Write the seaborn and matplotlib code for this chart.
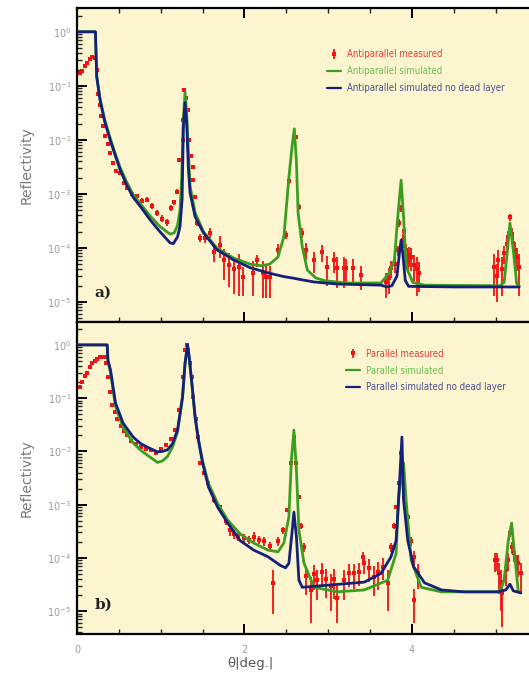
import numpy as np
import matplotlib
matplotlib.use("Agg")
import matplotlib.pyplot as plt
import seaborn as sns
from matplotlib import font_manager
from matplotlib.ticker import FixedLocator, LogLocator, NullFormatter, MultipleLocator
from matplotlib.lines import Line2D

# ---------------- Panel a: antiparallel ----------------
a_meas_theta = [0.03, 0.06, 0.09, 0.12, 0.15, 0.18, 0.21, 0.235, 0.25, 0.27, 0.29, 0.31, 0.34, 0.37,
                0.40, 0.43, 0.47, 0.51, 0.56, 0.60, 0.66, 0.72, 0.78, 0.84, 0.90, 0.96, 1.02, 1.07,
                1.12, 1.16, 1.20, 1.22, 1.26, 1.27, 1.28, 1.30, 1.32, 1.34, 1.36, 1.38, 1.39, 1.41,
                1.43, 1.47, 1.53, 1.59, 1.63, 1.71, 1.75, 1.81, 1.87, 1.93, 1.98, 2.10, 2.15, 2.22,
                2.26, 2.30, 2.40, 2.49, 2.53, 2.61, 2.65, 2.69, 2.73, 2.83, 2.93, 2.99, 3.07, 3.11,
                3.19, 3.21, 3.29, 3.39, 3.69, 3.72, 3.75, 3.80, 3.83, 3.84, 3.87, 3.89, 3.90, 3.93,
                3.95, 3.97, 3.99, 4.02, 4.06, 4.08, 4.98, 5.01, 5.03, 5.07, 5.10, 5.13, 5.15, 5.17,
                5.19, 5.21, 5.23, 5.25, 5.28]
a_meas_R = [0.17, 0.19, 0.23, 0.27, 0.31, 0.34, 0.33, 0.2, 0.07, 0.045, 0.028, 0.018, 0.012, 0.0085,
            0.0058, 0.0038, 0.0027, 0.0024, 0.0016, 0.0013, 1.0e-3, 9.0e-4, 7.5e-4, 7.8e-4, 6.0e-4,
            4.5e-4, 3.5e-4, 3.0e-4, 5.5e-4, 7.0e-4, 1.1e-3, 4.3e-3, 1.0e-2, 2.3e-2, 8.5e-2, 6.0e-2,
            3.6e-2, 1.0e-2, 5.0e-3, 3.2e-3, 1.8e-3, 8.7e-4, 2.9e-4, 1.55e-4, 1.5e-4, 1.9e-4, 8.5e-5,
            1.15e-4, 6.0e-5, 4.9e-5, 4.0e-5, 4.5e-5, 2.9e-5, 3.5e-5, 6.0e-5, 3.5e-5, 2.9e-5, 2.9e-5,
            9.1e-5, 1.75e-4, 1.7e-3, 1.15e-2, 5.8e-4, 1.9e-4, 9.1e-5, 6.0e-5, 8.5e-5, 4.5e-5, 6.0e-5,
            4.3e-5, 4.3e-5, 4.3e-5, 4.3e-5, 3.2e-5, 2.3e-5, 2.8e-5, 4.3e-5, 5.0e-5, 9.0e-5, 2.9e-4,
            5.5e-4, 1.4e-4, 2.1e-4, 9.0e-5, 6.0e-5, 7.5e-5, 6.8e-5, 4.9e-5, 4.0e-5, 3.5e-5, 4.5e-5,
            3.0e-5, 6.0e-5, 4.0e-5, 8.0e-5, 1.2e-4, 1.6e-4, 3.7e-4, 1.8e-4, 1.25e-4, 9.0e-5, 6.8e-5,
            4.5e-5]
a_meas_err = [0.012, 0.013, 0.015, 0.018, 0.02, 0.022, 0.022, 0.014, 0.005, 0.003, 0.002, 0.0013,
              9e-4, 6e-4, 4e-4, 3e-4, 2.2e-4, 2e-4, 1.4e-4, 1.2e-4, 1e-4, 9e-5, 8e-5, 8e-5, 7e-5,
              6e-5, 5e-5, 5e-5, 7e-5, 8e-5, 1.2e-4, 4e-4, 9e-4, 2e-3, 7e-3, 5e-3, 3e-3, 9e-4, 4e-4,
              3e-4, 1.6e-4, 8e-5, 4e-5, 2.5e-5, 2.5e-5, 4e-5, 3e-5, 5e-5, 3.5e-5, 3e-5, 2.6e-5,
              3.2e-5, 1.6e-5, 2.2e-5, 1.5e-5, 2.3e-5, 1.7e-5, 1.7e-5, 2.5e-5, 3e-5, 2e-4, 1e-3,
              8e-5, 4e-5, 3e-5, 2.5e-5, 3e-5, 2.5e-5, 2.5e-5, 2.5e-5, 2.5e-5, 2e-5, 2e-5, 1.5e-5,
              1.1e-5, 1.4e-5, 1.5e-5, 1.5e-5, 2e-5, 5e-5, 8e-5, 4e-5, 5e-5, 3e-5, 2.5e-5, 3e-5,
              3e-5, 2.5e-5, 2.7e-5, 2e-5, 3.2e-5, 2e-5, 3e-5, 2.7e-5, 3e-5, 4e-5, 5e-5, 6e-5, 5e-5,
              4e-5, 4e-5, 3e-5, 3.2e-5]

a_sim_theta = [0.0, 0.22, 0.235, 0.275, 0.33, 0.395, 0.45, 0.515, 0.59, 0.67, 0.77, 0.874, 0.99,
               1.11, 1.16, 1.20, 1.23, 1.25, 1.27, 1.29, 1.31, 1.33, 1.35, 1.41, 1.51, 1.67, 1.87,
               2.07, 2.20, 2.30, 2.40, 2.47, 2.53, 2.57, 2.595, 2.62, 2.64, 2.69, 2.75, 2.85, 2.95,
               3.20, 3.63, 3.73, 3.79, 3.83, 3.87, 3.90, 3.93, 4.01, 4.15, 5.05, 5.10, 5.14, 5.17,
               5.21, 5.25, 5.28]
a_sim_R = [1.0, 1.0, 0.15, 0.058, 0.024, 0.011, 0.006, 0.0031, 0.0017, 9.8e-4, 6.2e-4, 3.9e-4,
           2.5e-4, 1.8e-4, 1.9e-4, 2.6e-4, 5.0e-4, 2.0e-3, 2.5e-2, 7.5e-2, 3.0e-2, 6.0e-3, 1.4e-3,
           4.5e-4, 2.0e-4, 1.0e-4, 6.5e-5, 5.0e-5, 4.7e-5, 5.0e-5, 6.8e-5, 1.6e-4, 2.0e-3, 8.0e-3,
           1.6e-2, 4.0e-3, 4.5e-4, 1.05e-4, 3.9e-5, 2.8e-5, 2.5e-5, 2.25e-5, 2.25e-5, 3.5e-5, 6.0e-5,
           3.7e-4, 1.8e-3, 3.7e-4, 4.5e-5, 2.3e-5, 2.05e-5, 2.0e-5, 2.3e-5, 9.0e-5, 2.9e-4, 9.0e-5,
           2.2e-5, 2.0e-5]

a_nodl_theta = [0.0, 0.22, 0.235, 0.275, 0.33, 0.395, 0.45, 0.515, 0.59, 0.67, 0.77, 0.874, 0.99,
                1.11, 1.15, 1.20, 1.23, 1.255, 1.27, 1.29, 1.31, 1.33, 1.35, 1.41, 1.51, 1.67, 1.87,
                2.07, 2.27, 2.47, 2.59, 2.67, 2.83, 3.11, 3.63, 3.70, 3.76, 3.82, 3.85, 3.87, 3.89,
                3.92, 3.96, 4.50, 5.28]
a_nodl_R = [1.0, 1.0, 0.15, 0.055, 0.022, 0.010, 0.0055, 0.0028, 0.0015, 8.7e-4, 5.5e-4, 3.3e-4,
            2.0e-4, 1.25e-4, 1.2e-4, 1.6e-4, 2.5e-4, 8.0e-4, 1.7e-2, 4.9e-2, 2.0e-2, 3.0e-3, 1.05e-3,
            3.8e-4, 1.9e-4, 9.3e-5, 6.0e-5, 4.3e-5, 3.5e-5, 2.95e-5, 2.75e-5, 2.6e-5, 2.35e-5,
            2.15e-5, 2.05e-5, 1.9e-5, 2.0e-5, 3.0e-5, 8.0e-5, 1.4e-4, 8.0e-5, 2.5e-5, 1.95e-5,
            1.9e-5, 1.9e-5]

# ---------------- Panel b: parallel ----------------
b_meas_theta = [0.03, 0.06, 0.09, 0.12, 0.15, 0.18, 0.21, 0.24, 0.27, 0.30, 0.33, 0.35, 0.37, 0.39,
                0.42, 0.45, 0.48, 0.52, 0.56, 0.60, 0.65, 0.70, 0.76, 0.82, 0.88, 0.94, 1.00, 1.06,
                1.12, 1.17, 1.22, 1.26, 1.29, 1.31, 1.33, 1.35, 1.37, 1.39, 1.42, 1.44, 1.47, 1.52,
                1.57, 1.64, 1.71, 1.78, 1.83, 1.88, 1.92, 2.00, 2.05, 2.11, 2.17, 2.23, 2.30, 2.34,
                2.40, 2.46, 2.51, 2.56, 2.59, 2.62, 2.65, 2.68, 2.71, 2.74, 2.79, 2.83, 2.87, 2.92,
                2.97, 3.03, 3.07, 3.11, 3.19, 3.25, 3.31, 3.37, 3.41, 3.43, 3.49, 3.55, 3.60, 3.65,
                3.71, 3.75, 3.79, 3.81, 3.84, 3.87, 3.89, 3.90, 3.93, 3.95, 3.99, 4.02, 4.03, 4.07,
                4.99, 5.01, 5.04, 5.06, 5.08, 5.12, 5.15, 5.17, 5.19, 5.22, 5.25, 5.27, 5.30]
b_meas_R = [0.16, 0.2, 0.26, 0.3, 0.38, 0.45, 0.5, 0.55, 0.58, 0.6, 0.58, 0.45, 0.25, 0.13, 0.075,
            0.055, 0.04, 0.03, 0.024, 0.02, 0.016, 0.014, 0.012, 0.011, 0.0105, 0.0095, 0.011,
            0.013, 0.017, 0.025, 0.06, 0.25, 0.8, 1.0, 0.8, 0.46, 0.25, 0.105, 0.04, 0.019, 0.006,
            0.004, 0.0025, 0.0012, 9.0e-4, 5.0e-4, 3.3e-4, 2.8e-4, 2.5e-4, 2.4e-4, 2.2e-4, 2.5e-4,
            2.2e-4, 2.1e-4, 1.7e-4, 3.4e-5, 2.1e-4, 3.3e-4, 8.0e-4, 6.0e-3, 1.9e-2, 6.0e-3, 1.4e-3,
            4.0e-4, 1.6e-4, 4.5e-5, 2.5e-5, 5.0e-5, 3.8e-5, 5.5e-5, 4.0e-5, 3.0e-5, 4.0e-5, 1.8e-5,
            3.8e-5, 5.3e-5, 5.1e-5, 5.5e-5, 1.05e-4, 8.0e-5, 6.5e-5, 4.4e-5, 5.5e-5, 6.8e-5, 3.4e-5,
            1.6e-4, 4.0e-4, 9.0e-4, 2.5e-3, 9.3e-3, 5.1e-3, 1.4e-3, 8.0e-4, 5.9e-4, 2.1e-4, 1.05e-4,
            1.6e-5, 5.1e-5, 9.0e-5, 9.1e-5, 5.1e-5, 3.5e-5, 2.2e-5, 6.0e-5, 9.1e-5, 2.95e-4, 1.6e-4,
            1.23e-4, 8.0e-5, 7.9e-5, 5.1e-5]
b_meas_err = [0.012, 0.015, 0.02, 0.022, 0.028, 0.033, 0.037, 0.04, 0.043, 0.045, 0.043, 0.033,
              0.019, 0.01, 0.006, 0.004, 0.003, 0.0022, 0.0018, 0.0015, 0.0012, 0.001, 9e-4, 8e-4,
              8e-4, 7e-4, 8e-4, 1e-3, 1.3e-3, 1.9e-3, 4.5e-3, 0.019, 0.06, 0.075, 0.06, 0.035, 0.019,
              0.008, 0.003, 0.0015, 5e-4, 3.5e-4, 2.2e-4, 1.2e-4, 1e-4, 8e-5, 7e-5, 5e-5, 4e-5,
              4e-5, 4e-5, 5e-5, 4e-5, 4e-5, 3e-5, 2.5e-5, 4e-5, 5e-5, 7e-5, 5e-4, 1.5e-3, 5e-4,
              1.2e-4, 5e-5, 3e-5, 2.5e-5, 1.9e-5, 2.5e-5, 2.2e-5, 2.5e-5, 2.2e-5, 2e-5, 2.3e-5,
              1.2e-5, 2.2e-5, 2.5e-5, 2.5e-5, 2.5e-5, 2.5e-5, 3e-5, 3e-5, 2.5e-5, 3e-5, 3e-5, 2.4e-5,
              3e-5, 5e-5, 8e-5, 2e-4, 8e-4, 4e-4, 1.5e-4, 9e-5, 7e-5, 4e-5, 3e-5, 1e-5, 2.5e-5,
              3.5e-5, 3.5e-5, 3e-5, 2.5e-5, 1.7e-5, 3e-5, 3.5e-5, 5e-5, 4e-5, 4e-5, 3.5e-5, 3.5e-5,
              3e-5]

b_sim_theta = [0.0, 0.36, 0.37, 0.40, 0.46, 0.55, 0.67, 0.76, 0.84, 0.96, 1.02, 1.08, 1.14, 1.20,
               1.26, 1.29, 1.32, 1.34, 1.38, 1.41, 1.45, 1.50, 1.57, 1.68, 1.80, 1.95, 2.11, 2.28,
               2.40, 2.47, 2.53, 2.56, 2.59, 2.62, 2.65, 2.71, 2.83, 3.11, 3.43, 3.71, 3.81, 3.84,
               3.90, 3.93, 3.99, 4.11, 4.35, 5.05, 5.10, 5.15, 5.19, 5.22, 5.27, 5.30]
b_sim_R = [1.0, 1.0, 0.5, 0.3, 0.07, 0.028, 0.0145, 0.0105, 0.0085, 0.0062, 0.0066, 0.0080, 0.012,
           0.023, 0.10, 0.43, 0.95, 0.55, 0.135, 0.044, 0.017, 0.0066, 0.0025, 1.05e-3, 5.1e-4,
           2.8e-4, 1.9e-4, 1.4e-4, 1.3e-4, 1.9e-4, 5.9e-4, 6.9e-3, 2.5e-2, 4.5e-3, 3.3e-4, 8.0e-5,
           2.8e-5, 2.3e-5, 2.5e-5, 3.8e-5, 1.2e-4, 1.4e-3, 6.0e-3, 1.2e-3, 9.0e-5, 2.8e-5, 2.3e-5,
           2.3e-5, 3.8e-5, 2.1e-4, 4.5e-4, 1.4e-4, 2.3e-5, 2.2e-5]

b_nodl_theta = [0.0, 0.36, 0.37, 0.40, 0.46, 0.55, 0.67, 0.76, 0.84, 0.96, 1.02, 1.08, 1.14, 1.20,
                1.26, 1.29, 1.32, 1.34, 1.38, 1.41, 1.45, 1.50, 1.57, 1.68, 1.80, 1.95, 2.11, 2.28,
                2.43, 2.49, 2.53, 2.57, 2.59, 2.62, 2.65, 2.69, 3.03, 3.43, 3.63, 3.75, 3.81, 3.84,
                3.88, 3.90, 3.95, 4.02, 4.15, 4.35, 4.62, 5.03, 5.12, 5.17, 5.21, 5.30]
b_nodl_R = [1.0, 1.0, 0.5, 0.34, 0.081, 0.034, 0.0186, 0.0140, 0.0120, 0.0098, 0.0100, 0.0107,
            0.0140, 0.025, 0.107, 0.46, 1.0, 0.6, 0.141, 0.045, 0.0162, 0.006, 0.00214, 8.9e-4,
            4.5e-4, 2.1e-4, 1.4e-4, 1.05e-4, 7.2e-5, 6.5e-5, 7.9e-5, 3.3e-4, 7.2e-4, 2.5e-4, 3.8e-5,
            2.8e-5, 3.1e-5, 3.5e-5, 5.1e-5, 1.05e-4, 2.1e-4, 1.2e-3, 1.86e-2, 1.2e-3, 2.1e-4, 6.8e-5,
            3.4e-5, 2.5e-5, 2.3e-5, 2.3e-5, 2.5e-5, 3.2e-5, 2.4e-5, 2.2e-5]

panels = [
    dict(meas=(a_meas_theta, a_meas_R, a_meas_err), sim=(a_sim_theta, a_sim_R),
         nodl=(a_nodl_theta, a_nodl_R), tag="a)",
         labels=["Antiparallel measured", "Antiparallel simulated",
                 "Antiparallel simulated no dead layer"],
         ylim=(10 ** -5.37, 10 ** 0.44), leg_anchor=(0.552, 0.868)),
    dict(meas=(b_meas_theta, b_meas_R, b_meas_err), sim=(b_sim_theta, b_sim_R),
         nodl=(b_nodl_theta, b_nodl_R), tag="b)",
         labels=["Parallel measured", "Parallel simulated", "Parallel simulated no dead layer"],
         ylim=(10 ** -5.43, 10 ** 0.43), leg_anchor=(0.594, 0.914)),
]

RED = "#f21010"
GREEN = "#3c9e1e"
NAVY = "#13217a"
BG = "#fdf5cf"
GRAY = "#9a9a9a"

sns.set_style("ticks")
plt.rcParams["font.family"] = ["DejaVu Sans"]
plt.rcParams["mathtext.fontset"] = "dejavusans"

# narrow face for the legend entries when it is available
_installed = {f.name for f in font_manager.fontManager.ttflist}
if "Liberation Sans Narrow" in _installed:
    LEG_FONT = dict(family="Liberation Sans Narrow", size=8.4)
else:
    LEG_FONT = dict(family="DejaVu Sans", size=6.9, stretch="condensed")

W, H = 529, 676
fig = plt.figure(figsize=(W / 100, H / 100), dpi=100)
fig.patch.set_facecolor("white")

left = 77 / W
width = 1.0 - left + 0.002
tops = [8, 322]
bottoms = [322, 634]
axes = []
for i in range(2):
    ax = fig.add_axes([left, 1 - bottoms[i] / H, width, (bottoms[i] - tops[i]) / H])
    axes.append(ax)

for i, (ax, p) in enumerate(zip(axes, panels)):
    ax.set_facecolor(BG)
    th, R, err = p["meas"]
    eb = ax.errorbar(th, R, yerr=err, fmt="s", color=RED, ms=3.2, mew=0,
                     elinewidth=1.3, capsize=2.6, capthick=1.3, zorder=2)
    sns.lineplot(x=p["sim"][0], y=p["sim"][1], ax=ax, color=GREEN, lw=2.0,
                 sort=False, estimator=None, legend=False, zorder=3)
    sns.lineplot(x=p["nodl"][0], y=p["nodl"][1], ax=ax, color=NAVY, lw=2.0,
                 sort=False, estimator=None, legend=False, zorder=4)
    ax.set_yscale("log")
    ax.set_xlim(0, 5.41)
    ax.set_ylim(*p["ylim"])

    # spines
    for s in ["left", "top", "bottom"]:
        ax.spines[s].set_linewidth(1.6)
        ax.spines[s].set_color("black")
    ax.spines["right"].set_visible(False)

    # ticks
    ax.xaxis.set_major_locator(FixedLocator([0, 2, 4]))
    ax.xaxis.set_minor_locator(MultipleLocator(0.5))
    ax.yaxis.set_major_locator(FixedLocator([1e0, 1e-1, 1e-2, 1e-3, 1e-4, 1e-5]))
    ax.yaxis.set_minor_locator(LogLocator(base=10, subs=np.arange(2, 10), numticks=20))
    ax.yaxis.set_minor_formatter(NullFormatter())
    ax.tick_params(axis="both", which="major", direction="in", length=7, width=1.4,
                   colors="black", labelcolor=GRAY, labelsize=7)
    ax.tick_params(axis="both", which="minor", direction="in", length=3.5, width=1.0)
    ax.tick_params(axis="x", which="both", top=(i == 0), bottom=True, pad=8)
    ax.tick_params(axis="y", which="both", left=True, right=False, pad=4)
    if i == 0:
        ax.tick_params(axis="x", labelbottom=False)

    ax.set_xlabel("")
    ax.set_ylabel("Reflectivity", color="#7a7a7a", fontsize=10)
    ax.yaxis.set_label_coords(-0.095, 0.5)

    ax.text(0.038, 0.093, p["tag"], transform=ax.transAxes, fontsize=11,
            fontweight="bold", family="DejaVu Serif", color="#222222", va="center", ha="left")

    handles = [eb,
               Line2D([], [], color=GREEN, lw=1.6),
               Line2D([], [], color=NAVY, lw=1.6)]
    leg = ax.legend(handles, p["labels"], loc="upper left", bbox_to_anchor=p["leg_anchor"],
                    frameon=False, prop=LEG_FONT, handlelength=1.5, handletextpad=0.6,
                    labelspacing=0.7, borderpad=0, borderaxespad=0)
    for txt, c in zip(leg.get_texts(), ["#e8403a", "#6cbf52", "#4a4f92"]):
        txt.set_color(c)

fig.text((250) / W, 1 - 664 / H, "θ|deg.|", ha="center", va="center",
         fontsize=9.5, color="#555555")

fig.savefig("out.png", dpi=100, facecolor="white")
